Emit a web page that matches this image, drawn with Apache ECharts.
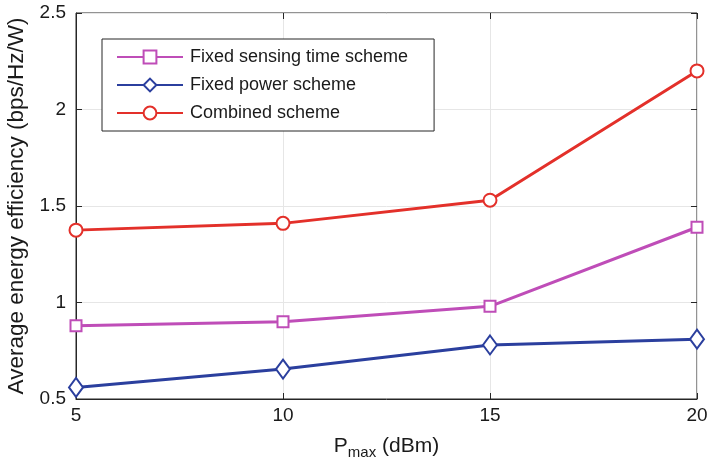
<!DOCTYPE html>
<html>
<head>
<meta charset="utf-8">
<script src="https://cdn.jsdelivr.net/npm/echarts@6/dist/echarts.min.js"></script>
<style>
  html, body { margin: 0; padding: 0; background: #fff; }
  #chart { width: 708px; height: 460px; }
</style>
</head>
<body>
<div id="chart"></div>
<script>
// Transmit power limits (dBm)
const pmax = [5, 10, 15, 20];
// Average energy efficiency (bps/Hz/W) for each scheme
const fixedSensing = [0.88, 0.90, 0.98, 1.39];
const fixedPower = [0.56, 0.655, 0.78, 0.81];
const combined = [1.375, 1.41, 1.53, 2.20];
const seriesNames = ['Fixed sensing time scheme', 'Fixed power scheme', 'Combined scheme'];

const FONT = '"Liberation Sans", Arial, Helvetica, sans-serif';
const AXIS = '#262626';
const GRID = '#e6e6e6';
const TEXT = '#1a1a1a';

function pairs(vals) { return pmax.map((x, i) => [x, vals[i]]); }

function lineSeries(name, vals, color, symbol, size) {
  return {
    name, type: 'line', data: pairs(vals),
    symbol, symbolSize: size,
    showAllSymbol: true,
    lineStyle: { color, width: 3 },
    itemStyle: { color, borderColor: color, borderWidth: 2.5 },
    emphasis: { disabled: true },
    z: 3
  };
}

const chart = echarts.init(document.getElementById('chart'), null, { renderer: 'canvas' });

const hiddenAxisCommon = {
  axisLine: { show: false },
  axisTick: { show: true, inside: true, length: 6, lineStyle: { color: AXIS } },
  axisLabel: { show: false },
  splitLine: { show: false }
};

chart.setOption({
  animation: false,
  backgroundColor: '#fff',
  textStyle: { fontFamily: FONT },
  grid: {
    left: 76, right: 11, top: 13, bottom: 61,
    outerBoundsMode: 'none', containLabel: false,
    show: true, borderColor: AXIS, borderWidth: 1, backgroundColor: 'transparent'
  },
  legend: {
    orient: 'vertical',
    left: 102, top: 39,
    padding: [9, 26, 9, 14],
    itemWidth: 66, itemHeight: 16, itemGap: 10,
    backgroundColor: '#fff',
    borderColor: AXIS, borderWidth: 1, borderRadius: 0,
    textStyle: { fontFamily: FONT, fontSize: 18, color: TEXT, padding: [0, 0, 0, 2] },
    data: seriesNames
  },
  xAxis: [{
    type: 'value', min: 5, max: 20, interval: 5,
    axisLine: { show: true, onZero: false, lineStyle: { color: AXIS, width: 1 } },
    axisTick: { show: true, inside: true, length: 6, lineStyle: { color: AXIS } },
    axisLabel: { fontFamily: FONT, fontSize: 19, color: TEXT, margin: 7 },
    splitLine: { show: true, lineStyle: { color: GRID, width: 1 } },
    name: '{p|P}{s|max}{p| (dBm)}',
    nameLocation: 'middle', nameGap: 33,
    nameTextStyle: {
      rich: {
        p: { fontFamily: FONT, fontSize: 21, color: TEXT },
        s: { fontFamily: FONT, fontSize: 15, color: TEXT, padding: [13, 0, 0, 0] }
      }
    }
  }, Object.assign({ type: 'value', position: 'top', min: 5, max: 20, interval: 5 }, hiddenAxisCommon)],
  yAxis: [{
    type: 'value', min: 0.5, max: 2.5, interval: 0.5,
    axisLine: { show: true, onZero: false, lineStyle: { color: AXIS, width: 1 } },
    axisTick: { show: true, inside: true, length: 6, lineStyle: { color: AXIS } },
    axisLabel: { fontFamily: FONT, fontSize: 19, color: TEXT, margin: 10 },
    splitLine: { show: true, lineStyle: { color: GRID, width: 1 } },
    name: 'Average energy efficiency (bps/Hz/W)',
    nameLocation: 'middle', nameGap: 45,
    nameTextStyle: { fontFamily: FONT, fontSize: 22.5, color: TEXT }
  }, Object.assign({ type: 'value', position: 'right', min: 0.5, max: 2.5, interval: 0.5 }, hiddenAxisCommon)],
  series: [
    lineSeries(seriesNames[0], fixedSensing, '#bf4db8', 'emptyRect', 11),
    lineSeries(seriesNames[1], fixedPower, '#2b3f9e', 'emptyDiamond', [14, 19]),
    lineSeries(seriesNames[2], combined, '#e3302a', 'emptyCircle', 13)
  ]
});
</script>
</body>
</html>
